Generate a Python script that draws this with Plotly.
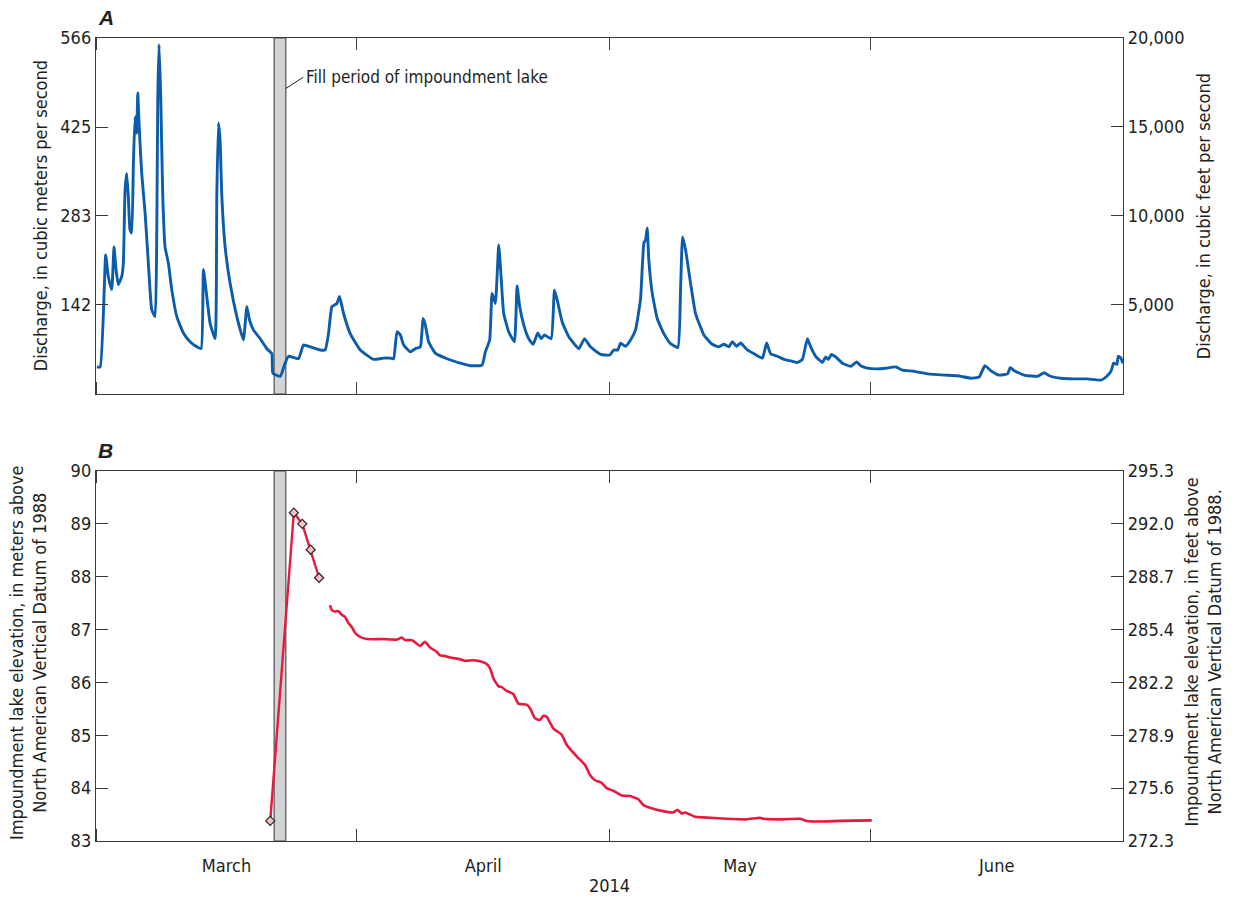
import pandas as pd
import plotly.graph_objects as go

# ---------------- data ----------------
start = pd.Timestamp("2014-03-01")

# Discharge (m3/s); time as days since 2014-03-01
q_day = [0.1, 0.5, 1.15, 1.46, 1.87, 2.14, 2.38, 2.65, 3.06, 3.25, 3.45, 3.65, 3.84, 4.04, 4.24,
         4.44, 4.64, 4.84, 4.96, 5.15, 5.43, 5.83, 6.22, 6.62, 7.02, 7.22, 7.34, 7.49, 7.69, 7.93,
         8.20, 8.60, 9.00, 9.60, 10.38, 11.18, 11.97, 12.49, 12.76, 13.16, 13.56, 14.15, 14.35, 14.54,
         14.74, 14.95, 15.34, 15.93, 16.73, 17.51, 17.92, 18.23, 18.70, 19.50, 20.30, 20.89, 21.01,
         21.88, 22.47, 22.87, 24.05, 24.65, 25.45, 26.63, 27.23, 27.62, 28.03, 28.62, 28.93, 29.41,
         30.20, 31.39, 32.97, 34.16, 34.96,
         35.35, 35.76, 36.15, 36.54, 37.34, 37.93, 38.53, 38.85, 39.12, 39.51, 40.31, 41.70, 43.28,
         44.47, 45.86, 46.25, 46.77, 47.05, 47.44, 47.84, 48.12, 48.43, 49.02, 49.70, 50.02, 50.33,
         50.81, 51.40, 51.93, 52.47, 52.88, 53.27, 54.07, 54.46, 54.78, 55.37, 56.16, 57.35, 58.03,
         58.74, 59.93, 61.04, 61.51, 61.99, 62.31, 62.90, 63.50, 64.09, 64.68, 65.08, 65.28, 65.48,
         65.67, 66.08, 66.67, 67.46, 68.25, 69.12, 69.44, 69.68, 70.04, 70.63, 71.22, 72.21, 73.21,
         73.99, 74.59, 75.18, 75.59, 76.10, 76.58, 77.37, 78.16, 79.16, 79.67, 80.14,
         80.94, 81.72, 82.72, 83.32, 83.91, 84.51, 84.90, 85.49, 86.29, 86.68, 87.00, 87.36, 87.87,
         88.67, 89.65, 90.37, 90.84, 91.64, 92.83, 93.82, 95.01, 95.80, 97.18, 98.78, 100.75, 102.34,
         103.92, 104.91, 105.59, 106.30, 107.29, 108.29, 108.60, 109.07, 110.26, 111.85, 112.64,
         113.23, 114.63, 116.21, 117.80, 119.38, 119.98, 120.57, 120.89, 121.28, 121.43, 121.75, 121.99]
q_cms = [43, 43, 221, 187, 166, 234, 198, 174, 187, 208, 324, 351, 314, 261, 256,
         367, 441, 415, 479, 420, 351, 288, 208, 134, 123, 261, 473, 556, 473, 314,
         234, 208, 166, 123, 97, 83, 75, 72, 198, 155, 112, 88, 314, 431,
         404, 314, 234, 176, 123, 86, 139, 118, 102, 88, 72, 64, 33,
         28, 49, 60, 56, 78, 75, 70, 70, 96, 139, 144, 155, 128,
         96, 70, 55, 57, 57,
         56, 99, 94, 78, 67, 72, 75, 120, 110, 83, 65, 56, 49,
         45, 46, 67, 86, 160, 144, 237, 187, 128, 99, 83, 172, 139,
         110, 88, 79, 97, 88, 94, 88, 165, 150, 115, 91, 72, 88,
         75, 63, 62, 70, 70, 81, 76, 86, 102, 150, 240, 245, 264,
         213, 160, 120, 96, 80, 74, 166, 250, 229, 176, 128, 94, 79,
         75, 79, 75, 83, 76, 81, 70, 64, 57, 81, 64,
         60, 55, 52, 50, 55, 88, 75, 60, 50, 59, 55, 63, 59,
         49, 44, 51, 45, 41, 40, 41, 43, 38, 36, 32, 30, 29,
         25, 27, 45, 37, 30, 32, 42, 37, 30, 28, 34,
         29, 25, 24, 24, 22, 27, 36, 49, 47, 60, 57, 49]

# Daily lake-elevation observations during/after fill (m)
obs_day = [20.7, 23.5, 24.5, 25.5, 26.5]
obs_elev = [83.38, 89.21, 89.00, 88.51, 87.98]

# Continuous lake elevation (m)
elev_day = [27.80, 28.00, 28.39, 28.78, 29.19, 29.58, 29.97, 30.38, 30.77, 31.36, 32.16, 34.13,
            35.72, 36.32, 36.71, 37.54, 38.49, 39.08, 39.68, 40.47, 40.86, 41.46, 42.05, 43.24,
            43.83, 44.82, 45.82, 46.41, 46.80, 47.20, 47.79, 48.20, 48.79, 49.57, 50.17, 51.16,
            51.56, 52.15, 52.74, 53.14, 53.54, 54.32, 55.32, 55.91, 57.10, 58.09, 58.68, 59.28,
            60.07, 60.67, 61.45, 62.45, 63.44, 64.42, 65.02, 66.01, 67.20, 68.58, 69.06, 69.58,
            69.97, 71.16, 72.94, 74.92, 77.30, 78.88, 79.27, 81.25, 83.63, 84.42, 86.00, 88.38, 92.15]
elev_m = [87.46, 87.37, 87.34, 87.35, 87.28, 87.24, 87.13, 87.05, 86.94, 86.86, 86.82, 86.82,
          86.81, 86.85, 86.80, 86.80, 86.69, 86.77, 86.66, 86.58, 86.51, 86.50, 86.47, 86.44,
          86.41, 86.42, 86.39, 86.35, 86.27, 86.08, 85.93, 85.91, 85.84, 85.78, 85.60, 85.58,
          85.51, 85.32, 85.29, 85.37, 85.35, 85.13, 85.01, 84.82, 84.60, 84.44, 84.25, 84.15,
          84.10, 84.00, 83.95, 83.86, 83.85, 83.79, 83.68, 83.62, 83.57, 83.54, 83.59, 83.52,
          83.54, 83.46, 83.44, 83.42, 83.41, 83.44, 83.42, 83.41, 83.42, 83.38, 83.37, 83.38, 83.39]

fill_start = "2014-03-22 04:00"
fill_end = "2014-03-23 13:00"

# axis tick data
cms_ticks = [141.58, 283.17, 424.75, 566.34]
cms_text = ["142", "283", "425", "566"]
cfs_ticks = [5000, 10000, 15000, 20000]
cfs_text = ["5,000", "10,000", "15,000", "20,000"]
m_ticks = [83, 84, 85, 86, 87, 88, 89, 90]
ft_text = ["272.3", "275.6", "278.9", "282.2", "285.4", "288.7", "292.0", "295.3"]

to_dates = lambda d: start + pd.to_timedelta(d, unit="D")

# ---------------- style ----------------
FONT = "Liberation Sans Narrow, DejaVu Sans Condensed, Arial Narrow, sans-serif"
TXT = "#231f20"
AX = "#3a3a3a"
BLUE = "#0b5cab"
RED = "#e8193f"

fig = go.Figure()

fig.add_trace(go.Scatter(x=to_dates(q_day), y=q_cms, mode="lines", xaxis="x2", yaxis="y3",
                         line=dict(color=BLUE, width=2.9, shape="spline", smoothing=0.4),
                         showlegend=False))
fig.add_trace(go.Scatter(x=[], y=[], xaxis="x2", yaxis="y4", showlegend=False, hoverinfo="skip"))
fig.add_trace(go.Scatter(x=to_dates(elev_day), y=elev_m, mode="lines", xaxis="x", yaxis="y",
                         line=dict(color=RED, width=2.6, shape="spline", smoothing=0.4),
                         showlegend=False))
fig.add_trace(go.Scatter(x=to_dates(obs_day), y=obs_elev, mode="lines+markers", xaxis="x", yaxis="y",
                         line=dict(color=RED, width=2.4),
                         marker=dict(symbol="diamond", size=7, color="#f5c0c4",
                                     line=dict(color="#2a2a2a", width=1.2)),
                         showlegend=False))
fig.add_trace(go.Scatter(x=[], y=[], xaxis="x", yaxis="y2", showlegend=False, hoverinfo="skip"))

# gray fill-period band in both panels
for yr in ["y3 domain", "y domain"]:
    fig.add_shape(type="rect", xref="x", yref=yr, x0=fill_start, x1=fill_end, y0=0, y1=1,
                  fillcolor="#d1d3d4", line=dict(color="#6d6e71", width=1.5), layer="below")

# leader line and label
fig.add_shape(type="line", xref="x", yref="y3", x0=fill_end, y0=486, x1="2014-03-25 15:00", y1=504,
              line=dict(color=TXT, width=1))
fig.add_annotation(xref="x", yref="y3", x="2014-03-25 18:00", y=504, text="Fill period of impoundment lake",
                   showarrow=False, xanchor="left", yanchor="middle",
                   font=dict(family=FONT, size=17, color=TXT))

xcommon = dict(type="date", range=["2014-03-01", "2014-07-01"], ticks="inside", ticklen=12,
               tickwidth=1.3, tickcolor=AX, showline=True, linecolor=AX, linewidth=1.4,
               mirror="ticks", showgrid=False, zeroline=False, dtick="M1", tick0="2014-03-01",
               tickformat="%B", ticklabelmode="period", automargin=False,
               tickfont=dict(family=FONT, size=18, color=TXT))
ycommon = dict(ticks="inside", ticklen=12, tickwidth=1.3, tickcolor=AX, showline=True,
               linecolor=AX, linewidth=1.4, showgrid=False, zeroline=False, automargin=False,
               tickfont=dict(family=FONT, size=18, color=TXT))

fig.update_layout(
    width=1237, height=900,
    margin=dict(l=96, r=114, t=38, b=59),
    paper_bgcolor="white", plot_bgcolor="white",
    font=dict(family=FONT, color=TXT),
    xaxis=dict(**xcommon, anchor="y", domain=[0, 1], showticklabels=True, ticklabelstandoff=8,
               title=dict(text="2014", font=dict(family=FONT, size=18, color=TXT), standoff=4)),
    xaxis2=dict(**xcommon, anchor="y3", domain=[0, 1], matches="x", showticklabels=False),
    yaxis=dict(**ycommon, anchor="x", domain=[0, 0.4608], range=[83, 90], tickvals=m_ticks,
               ticktext=[str(v) for v in m_ticks]),
    yaxis2=dict(**ycommon, anchor="x", overlaying="y", side="right", range=[83, 90],
                tickvals=m_ticks, ticktext=ft_text),
    yaxis3=dict(**ycommon, anchor="x2", domain=[0.5567, 1], range=[0, 566.34],
                tickvals=cms_ticks, ticktext=cms_text),
    yaxis4=dict(**ycommon, anchor="x2", overlaying="y3", side="right", range=[0, 20000],
                tickvals=cfs_ticks, ticktext=cfs_text),
)

def ann(text, x, y, angle=0, size=18):
    fig.add_annotation(xref="paper", yref="paper", x=x, y=y, text=text, showarrow=False,
                       textangle=angle, xanchor="center", yanchor="middle",
                       font=dict(family=FONT, size=size, color=TXT))

# panel letters
fig.add_annotation(xref="paper", yref="paper", x=0.0, y=1.026, text="<b><i>A</i></b>", showarrow=False,
                   xanchor="left", yanchor="middle", font=dict(family="Liberation Sans, Arial", size=21, color=TXT))
fig.add_annotation(xref="paper", yref="paper", x=0.0, y=0.4857, text="<b><i>B</i></b>", showarrow=False,
                   xanchor="left", yanchor="middle", font=dict(family="Liberation Sans, Arial", size=21, color=TXT))

# axis titles
ann("Discharge, in cubic meters per second", -0.0545, 0.778, angle=-90)
ann("Discharge, in cubic feet per second", 1.0779, 0.778, angle=-90)
ann("Impoundment lake elevation, in meters above<br>North American Vertical Datum of 1988",
    -0.0657, 0.2336, angle=-90)
ann("Impoundment lake elevation, in feet above<br>North American Vertical Datum of 1988.",
    1.0774, 0.2354, angle=-90)

fig.write_html("out.html", config={"displayModeBar": False},
               post_script="document.body.style.margin='0';document.body.style.overflow='hidden';")
